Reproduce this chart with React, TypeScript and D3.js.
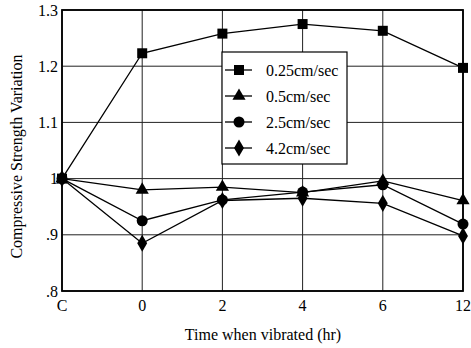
import * as d3 from 'd3';

const categories = ['C', '0', '2', '4', '6', '12'];
const yTicks = [0.8, 0.9, 1.0, 1.1, 1.2, 1.3];
const yTickLabels = ['.8', '.9', '1', '1.1', '1.2', '1.3'];

const s025 = [1.0, 1.223, 1.258, 1.275, 1.263, 1.197];
const s05 = [1.0, 0.98, 0.985, 0.975, 0.996, 0.961];
const s25 = [1.0, 0.925, 0.962, 0.976, 0.989, 0.919];
const s42 = [1.0, 0.885, 0.961, 0.965, 0.956, 0.898];

const seriesNames = ['0.25cm/sec', '0.5cm/sec', '2.5cm/sec', '4.2cm/sec'];
const seriesValues = [s025, s05, s25, s42];
const seriesSymbols = [d3.symbolSquare, d3.symbolTriangle, d3.symbolCircle, d3.symbolDiamond];
const symbolSizes = [100, 75, 95, 85];

const W = 471;
const H = 348;
const margin = { top: 10, right: 8, bottom: 57, left: 62 };

export default function App() {
  const x = d3
    .scalePoint<string>()
    .domain(categories)
    .range([margin.left, W - margin.right]);
  const y = d3
    .scaleLinear()
    .domain([0.8, 1.3])
    .range([H - margin.bottom, margin.top]);

  const line = d3
    .line<number>()
    .x((_, i) => x(categories[i])!)
    .y(d => y(d));

  const font = "'Liberation Serif', 'Times New Roman', serif";
  const legend = { x: 222, y: 52, w: 125, h: 112 };

  return (
    <svg
      width={W}
      height={H}
      style={{ position: 'absolute', left: 0, top: 0, background: '#fff' }}
      fontFamily={font}
    >
      {/* grid */}
      {yTicks.map(t => (
        <line key={'h' + t} x1={margin.left} x2={W - margin.right} y1={y(t)} y2={y(t)} stroke="#222" strokeWidth={1} />
      ))}
      {categories.map(c => (
        <line key={'v' + c} x1={x(c)} x2={x(c)} y1={margin.top} y2={H - margin.bottom} stroke="#222" strokeWidth={1} />
      ))}
      <rect
        x={margin.left}
        y={margin.top}
        width={W - margin.right - margin.left}
        height={H - margin.bottom - margin.top}
        fill="none"
        stroke="#000"
        strokeWidth={1.8}
      />

      {/* series */}
      {seriesValues.map((vals, si) => (
        <g key={si}>
          <path d={line(vals)!} fill="none" stroke="#000" strokeWidth={1.3} />
          {vals.map((v, i) => (
            <path
              key={i}
              d={d3.symbol().type(seriesSymbols[si]).size(symbolSizes[si])()!}
              transform={`translate(${x(categories[i])},${y(v)})`}
              fill="#000"
            />
          ))}
        </g>
      ))}

      {/* legend */}
      <rect x={legend.x} y={legend.y} width={legend.w} height={legend.h} fill="#fff" stroke="#000" strokeWidth={1.2} />
      {seriesNames.map((name, i) => {
        const ly = 70 + i * 26;
        return (
          <g key={name}>
            <line x1={legend.x + 3} x2={legend.x + 30} y1={ly} y2={ly} stroke="#000" strokeWidth={1.3} />
            <path
              d={d3.symbol().type(seriesSymbols[i]).size(symbolSizes[i])()!}
              transform={`translate(${legend.x + 17},${ly})`}
              fill="#000"
            />
            <text x={legend.x + 44} y={ly} dy="0.35em" fontSize={16} fill="#000">
              {name}
            </text>
          </g>
        );
      })}

      {/* tick labels */}
      {yTicks.map((t, i) => (
        <text key={'yt' + t} x={margin.left - 4} y={y(t)} dy="0.35em" textAnchor="end" fontSize={16} fill="#000">
          {yTickLabels[i]}
        </text>
      ))}
      {categories.map(c => (
        <text key={'xt' + c} x={x(c)} y={H - margin.bottom + 20} textAnchor="middle" fontSize={16} fill="#000">
          {c}
        </text>
      ))}

      {/* axis titles */}
      <text x={263} y={H - 8} textAnchor="middle" fontSize={16} fill="#000">
        Time when vibrated (hr)
      </text>
      <text
        transform={`translate(16,${(margin.top + H - margin.bottom) / 2 + 6}) rotate(-90)`}
        textAnchor="middle"
        dy="0.35em"
        fontSize={16}
        fill="#000"
      >
        Compressive Strength Variation
      </text>
    </svg>
  );
}
